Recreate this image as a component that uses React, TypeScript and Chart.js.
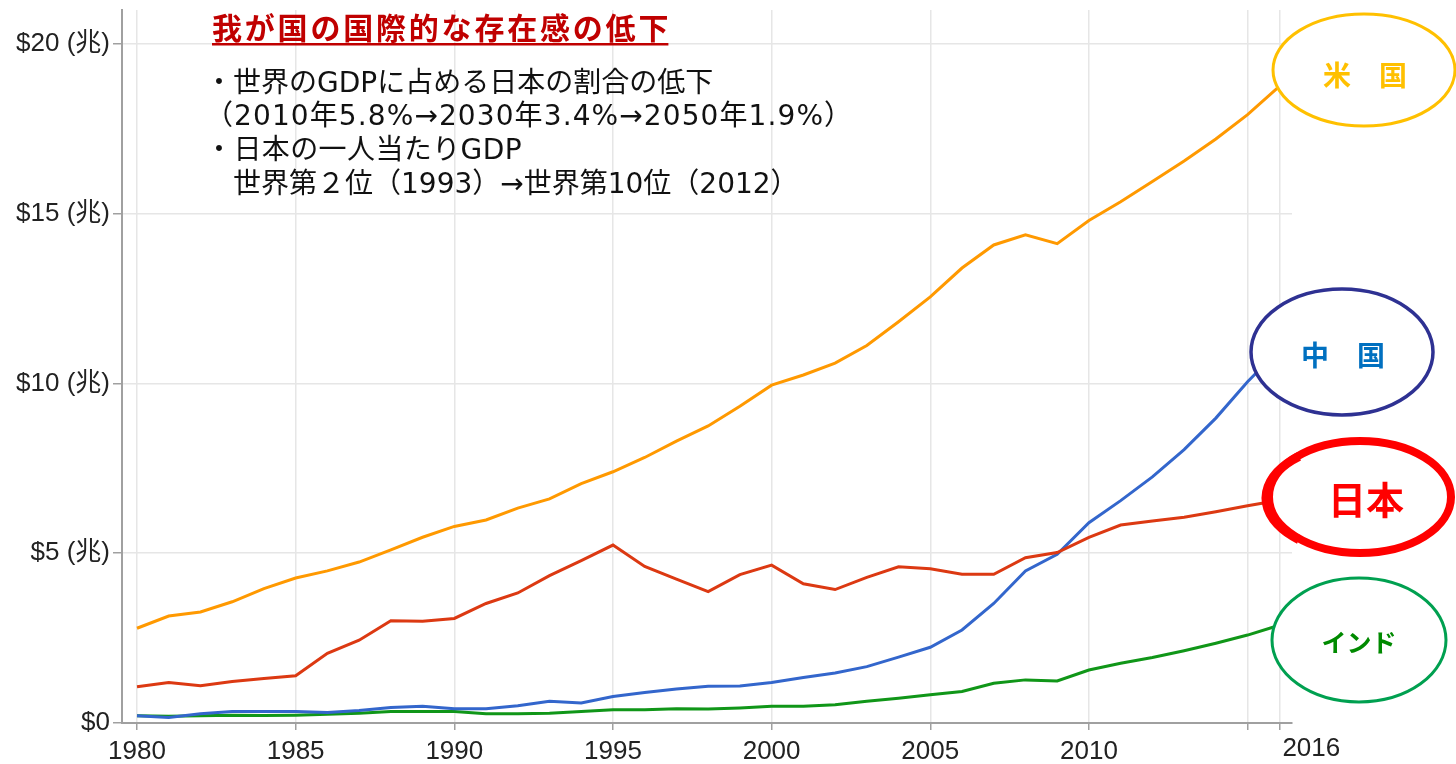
import React, { useEffect, useRef } from 'react';
import { Chart, registerables } from 'chart.js';

Chart.register(...registerables);

// ---- data (trillion US$) ----
const years = [
  1980, 1981, 1982, 1983, 1984, 1985, 1986, 1987, 1988, 1989,
  1990, 1991, 1992, 1993, 1994, 1995, 1996, 1997, 1998, 1999,
  2000, 2001, 2002, 2003, 2004, 2005, 2006, 2007, 2008, 2009,
  2010, 2011, 2012, 2013, 2014, 2015, 2016,
];
const usaGdp = [
  2.79, 3.15, 3.27, 3.57, 3.96, 4.27, 4.48, 4.74, 5.10, 5.47,
  5.79, 5.98, 6.33, 6.60, 7.05, 7.40, 7.82, 8.30, 8.75, 9.33,
  9.95, 10.25, 10.60, 11.12, 11.82, 12.55, 13.40, 14.08, 14.38, 14.12,
  14.80, 15.35, 15.95, 16.55, 17.20, 17.92, 18.75,
];
const japanGdp = [
  1.07, 1.19, 1.10, 1.22, 1.31, 1.39, 2.05, 2.44, 3.01, 3.00,
  3.08, 3.52, 3.83, 4.34, 4.78, 5.24, 4.61, 4.24, 3.87, 4.37,
  4.65, 4.10, 3.93, 4.29, 4.60, 4.54, 4.38, 4.38, 4.87, 5.02,
  5.47, 5.83, 5.95, 6.06, 6.22, 6.40, 6.56,
];
const chinaGdp = [
  0.21, 0.16, 0.27, 0.34, 0.34, 0.34, 0.31, 0.37, 0.46, 0.49,
  0.42, 0.42, 0.51, 0.64, 0.59, 0.78, 0.90, 1.00, 1.08, 1.09,
  1.19, 1.34, 1.47, 1.66, 1.94, 2.23, 2.74, 3.52, 4.48, 4.97,
  5.90, 6.55, 7.25, 8.05, 8.98, 10.05, 11.00,
];
const indiaGdp = [
  0.21, 0.20, 0.21, 0.23, 0.22, 0.23, 0.26, 0.29, 0.34, 0.34,
  0.34, 0.27, 0.27, 0.29, 0.34, 0.39, 0.39, 0.42, 0.41, 0.44,
  0.49, 0.49, 0.54, 0.64, 0.73, 0.83, 0.93, 1.17, 1.27, 1.24,
  1.56, 1.76, 1.93, 2.13, 2.35, 2.59, 2.88,
];
const seriesNames = ['米国', '日本', '中国', 'インド'];
const xTickYears = [1980, 1985, 1990, 1995, 2000, 2005, 2010, 2015, 2016];
const xTickLabels = ['1980', '1985', '1990', '1995', '2000', '2005', '2010', '', ''];
const lastYearLabel = '2016';
const yTickValues = [0, 5, 10, 15, 20];
const yTickLabels = ['$0', '$5 (兆)', '$10 (兆)', '$15 (兆)', '$20 (兆)'];
const titleText = '我が国の国際的な存在感の低下';
const noteLines = [
  '・世界のGDPに占める日本の割合の低下',
  '（2010年5.8%→2030年3.4%→2050年1.9%）',
  '・日本の一人当たりGDP',
  '　世界第２位（1993）→世界第10位（2012）',
];
const bubbleLabels = ['米　国', '中　国', '日本', 'インド'];

const TICK_FONT = '"Liberation Sans", "Noto Sans CJK JP", sans-serif';
const CJK_FONT = '"Noto Sans CJK JP", sans-serif';
const NOTE_FONT = '"DejaVu Sans", "Noto Sans CJK JP", sans-serif';

const annotatePlugin = {
  id: 'annotate',
  afterDraw(chart: any) {
    const ctx = chart.ctx as CanvasRenderingContext2D;
    const xs = chart.scales.x;
    ctx.save();

    // last x label, offset to the right of its tick
    ctx.font = `26px ${TICK_FONT}`;
    ctx.fillStyle = '#222';
    ctx.textAlign = 'center';
    ctx.textBaseline = 'top';
    ctx.fillText(lastYearLabel, xs.getPixelForValue(2016) + 32, 736);

    // title
    ctx.font = `bold 30px ${CJK_FONT}`;
    (ctx as any).letterSpacing = '2.8px';
    ctx.fillStyle = '#C00000';
    ctx.textAlign = 'left';
    ctx.textBaseline = 'middle';
    ctx.fillText(titleText, 212, 28);
    const tw = ctx.measureText(titleText).width - 2.8;
    ctx.fillRect(212, 43, tw, 2.5);

    // notes
    ctx.font = `28px ${NOTE_FONT}`;
    ctx.fillStyle = '#111';
    const lineY = [85, 118, 152, 186];
    const spacing = ['0px', '1.1px', '0.4px', '0px'];
    noteLines.forEach((t, i) => {
      (ctx as any).letterSpacing = spacing[i];
      ctx.fillText(t, 205, lineY[i]);
    });
    (ctx as any).letterSpacing = '0px';

    // bubbles
    const bubbles = [
      { cx: 1364, cy: 70, rx: 91, ry: 56, stroke: '#FFC000', lw: 3, color: '#FFC000', font: `bold 28px ${CJK_FONT}`, tx: 1365, ty: 75 },
      { cx: 1342, cy: 352, rx: 91, ry: 63, stroke: '#2E3192', lw: 3.5, color: '#0070C0', font: `bold 28px ${CJK_FONT}`, tx: 1343, ty: 355 },
      { cx: 1360, cy: 497, rx: 91, ry: 56, stroke: '#FF0000', lw: 8, color: '#FF0000', font: `bold 38px ${CJK_FONT}`, tx: 1366, ty: 500 },
      { cx: 1359, cy: 640, rx: 87, ry: 62, stroke: '#00A050', lw: 3, color: '#008A00', font: `bold 25px ${CJK_FONT}`, tx: 1359, ty: 642 },
    ];
    bubbles.forEach((b, i) => {
      ctx.beginPath();
      ctx.ellipse(b.cx, b.cy, b.rx, b.ry, 0, 0, Math.PI * 2);
      ctx.fillStyle = '#fff';
      ctx.fill();
      ctx.lineWidth = b.lw;
      ctx.strokeStyle = b.stroke;
      ctx.stroke();
      if (i === 2) {
        // heavier brush stroke on the left side
        ctx.beginPath();
        ctx.ellipse(b.cx - 3, b.cy + 1, b.rx, b.ry - 2, 0, Math.PI * 0.72, Math.PI * 1.28);
        ctx.lineWidth = 9;
        ctx.stroke();
      }
      ctx.font = b.font;
      ctx.fillStyle = b.color;
      ctx.textAlign = 'center';
      ctx.textBaseline = 'middle';
      ctx.fillText(bubbleLabels[i], b.tx, b.ty);
    });
    ctx.restore();
  },
};

export default function App() {
  const canvasRef = useRef<HTMLCanvasElement | null>(null);

  useEffect(() => {
    if (!canvasRef.current) return;
    const mk = (vals: number[]) => years.map((y, i) => ({ x: y, y: vals[i] }));
    const chart = new Chart(canvasRef.current, {
      type: 'line',
      data: {
        datasets: [
          { label: seriesNames[0], data: mk(usaGdp), borderColor: '#FF9900' },
          { label: seriesNames[1], data: mk(japanGdp), borderColor: '#DC3912' },
          { label: seriesNames[2], data: mk(chinaGdp), borderColor: '#3366CC' },
          { label: seriesNames[3], data: mk(indiaGdp), borderColor: '#109618' },
        ].map((d) => ({ ...d, borderWidth: 3, pointRadius: 0, tension: 0, fill: false })),
      },
      options: {
        animation: false,
        responsive: false,
        devicePixelRatio: 1,
        layout: { padding: { left: 0, top: 10, right: 164, bottom: 0 } },
        plugins: { legend: { display: false }, tooltip: { enabled: false } },
        scales: {
          x: {
            type: 'linear',
            min: 1979.527,
            max: 2016.4,
            afterBuildTicks: (s: any) => {
              s.ticks = xTickYears.map((v) => ({ value: v }));
            },
            afterFit: (s: any) => {
              s.height = 41;
              s.paddingLeft = 0;
              s.paddingRight = 0;
            },
            ticks: {
              autoSkip: false,
              maxRotation: 0,
              padding: 6,
              color: '#222',
              font: { family: TICK_FONT, size: 26 },
              callback: (v: any) => {
                const i = xTickYears.indexOf(Number(v));
                return i >= 0 ? xTickLabels[i] : '';
              },
            },
            grid: { color: '#e6e6e6', lineWidth: 1.5, tickColor: '#a0a0a0', tickLength: 7 },
            border: { color: '#a0a0a0', width: 2 },
          },
          y: {
            type: 'linear',
            min: 0,
            max: 21,
            afterBuildTicks: (s: any) => {
              s.ticks = yTickValues.map((v) => ({ value: v }));
            },
            afterFit: (s: any) => {
              s.width = 122;
              s.paddingTop = 0;
              s.paddingBottom = 0;
            },
            ticks: {
              padding: 3,
              color: '#222',
              font: { family: TICK_FONT, size: 26 },
              callback: (v: any) => {
                const i = yTickValues.indexOf(Number(v));
                return i >= 0 ? yTickLabels[i] : '';
              },
            },
            grid: { color: '#e6e6e6', lineWidth: 1.5, tickColor: '#a0a0a0', tickLength: 9 },
            border: { color: '#a0a0a0', width: 2 },
          },
        },
      },
      plugins: [annotatePlugin],
    } as any);
    return () => chart.destroy();
  }, []);

  return (
    <div style={{ position: 'absolute', left: 0, top: 0, width: 1456, height: 764, background: '#fff' }}>
      <canvas ref={canvasRef} width={1456} height={764} style={{ display: 'block' }} />
    </div>
  );
}
